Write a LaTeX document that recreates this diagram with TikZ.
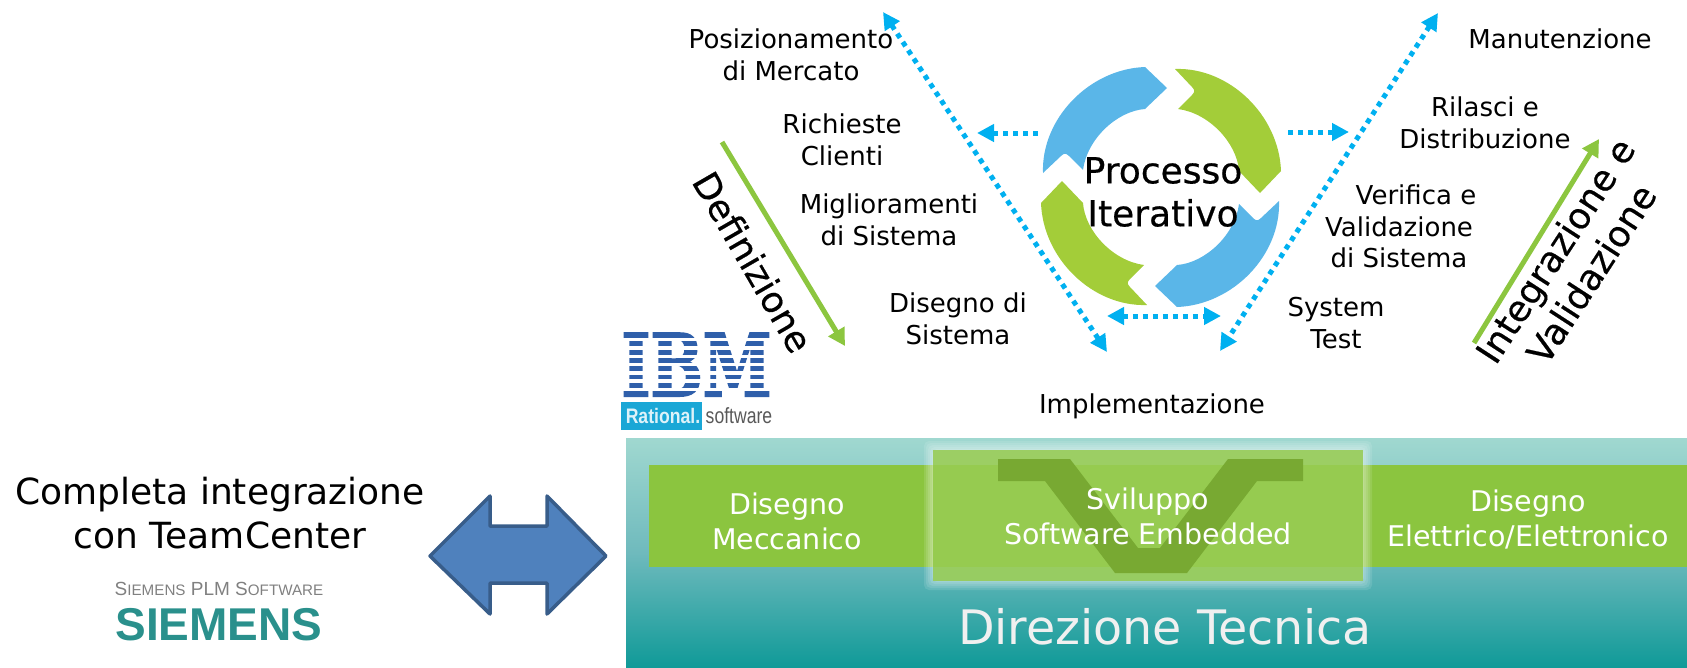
\documentclass[tikz,border=0pt]{standalone}
\usepackage{fontspec}
\usepackage{graphicx}
\setmainfont{DejaVu Sans}
\newfontfamily\logofont[BoldFeatures={FakeBold=2.5}]{DejaVu Serif}
\newfontfamily\lsans{Liberation Sans}
\newfontfamily\medfont[FakeBold=0.5]{DejaVu Sans}
\usetikzlibrary{arrows.meta,shadings}
\definecolor{dotblue}{HTML}{00B0F0}
\definecolor{arcblue}{HTML}{5AB6E8}
\definecolor{arcgreen}{HTML}{A3CD39}
\definecolor{linegreen}{HTML}{8CC63F}
\definecolor{bandgreen}{HTML}{8BC53F}
\definecolor{glassgreen}{HTML}{96CB50}
\definecolor{vgreen}{HTML}{78A932}
\definecolor{tealtop}{HTML}{A0D8D0}
\definecolor{tealmid}{HTML}{6FBABD}
\definecolor{tealbot}{HTML}{109A98}
\definecolor{ibmblue}{HTML}{2F5FAA}
\definecolor{ratcyan}{HTML}{1AA7D6}
\definecolor{siemteal}{HTML}{2A908C}
\definecolor{blockfill}{HTML}{4F81BD}
\definecolor{blockedge}{HTML}{385D8A}
\newcommand{\fsz}[2]{\fontsize{#1}{#2}\selectfont}
\tikzset{
  x=1pt,y=-1pt,
  lab/.style={inner sep=0pt,align=center,text=black,font=\fsz{26}{31.5}},
  big/.style={inner sep=0pt,align=center,text=black,font=\medfont\fsz{36}{43}},
  bandlab/.style={inner sep=0pt,align=center,text=white,font=\fsz{28.5}{35}},
  dotline/.style={draw=dotblue,line width=5pt,dash pattern=on 5pt off 5pt},
  dothead/.style={-{Triangle[length=17pt,width=17pt]}},
  dotboth/.style={{Triangle[length=17pt,width=17pt]}-{Triangle[length=17pt,width=17pt]}},
  greenarrow/.style={draw=linegreen,line width=5pt,-{Triangle[length=17pt,width=18pt]}},
}
\begin{document}
\begin{tikzpicture}
\useasboundingbox (0,0) rectangle (1687,667);
% --- teal panel
\shade[top color=tealtop,bottom color=tealbot,middle color=tealmid] (626,438) rectangle (1687,667);
\fill[bandgreen] (649,465) rectangle (1687,567);
% glass glow
\foreach \w in {1,3,5,7,9}
  \fill[white,opacity=.11,rounded corners=5pt] (933-\w,450-\w) rectangle (1363+\w,581+\w);
\fill[glassgreen,opacity=.86] (933,450) rectangle (1363,581);
\fill[glassgreen] (933,465) rectangle (1363,567);
\fill[vgreen] (998,459) -- (1070,459) -- (1138,548) -- (1160,548) -- (1228,459) -- (1303,459)
  -- (1303,481) -- (1257,481) -- (1187,573) -- (1115,573) -- (1045,481) -- (998,481) -- cycle;
\node[bandlab] (dm) at (787,521) {Disegno\\Meccanico};
\node[bandlab] (sw) at (1148,516) {Sviluppo\\Software Embedded};
\node[bandlab] (de) at (1528,519) {Disegno\\Elettrico/Elettronico};
\node[inner sep=0pt,text=white!94!black,font=\fsz{47.5}{50}] (dt) at (1165,627) {Direzione Tecnica};
% --- circular arrows
\foreach \a/\c in {0/arcblue,90/arcgreen,180/arcblue,270/arcgreen}{
  \begin{scope}[shift={(1161,187)},x=1pt,y=1pt,rotate=-\a]
    \fill[\c] (-118,14) .. controls (-120,68) and (-72,118) .. (-16,120)
      -- (6,99) -- (-16,78)
      .. controls (-44,76) and (-74,48) .. (-78,17)
      -- (-92,31) .. controls (-95,34) and (-97,34) .. (-100,31) -- cycle;
  \end{scope}}
\node[big] (pi) at (1163,192) {Processo\\Iterativo};
% --- dotted arrows
\coordinate (la) at (883,12);
\coordinate (lb) at (1107,352);
\coordinate (ra) at (1438,13);
\coordinate (rb) at (1220,351);
\coordinate (sla) at (1038,133);
\coordinate (slb) at (977,133);
\coordinate (sra) at (1288,132);
\coordinate (srb) at (1349,132);
\coordinate (ba) at (1107,316);
\coordinate (bb) at (1221,316);
\draw[dotline,dotboth] (la) -- (lb);
\draw[dotline,dotboth] (ra) -- (rb);
\draw[dotline,dothead] (sla) -- (slb);
\draw[dotline,dothead] (sra) -- (srb);
\draw[dotline,dotboth] (ba) -- (bb);
% --- green arrows
\coordinate (ga) at (722,142);
\coordinate (gb) at (845,346);
\coordinate (gc) at (1474,343);
\coordinate (gd) at (1599,139);
\draw[greenarrow] (ga) -- (gb);
\draw[greenarrow] (gc) -- (gd);
% --- labels
\node[lab] (n1) at (791,55) {Posizionamento\\di Mercato};
\node[lab] (n2) at (842,140) {Richieste\\Clienti};
\node[lab] (n3) at (889,220) {Miglioramenti\\di Sistema};
\node[lab] (n4) at (958,319) {Disegno di\\Sistema};
\node[lab] (n5) at (1152,406) {Implementazione};
\node[lab] (n6) at (1336,323) {System\\Test};
\node[lab] (n7) at (1399,226.5) {\hspace*{34pt}Verifica e\\Validazione\\di Sistema};
\node[lab] (n8) at (1485,123) {Rilasci e\\Distribuzione};
\node[lab] (n9) at (1560,39) {Manutenzione};
\node[big,rotate=-60] (def) at (753,262) {Definizione};
\node[big,rotate=57] (iv) at (1573,262) {Integrazione e\\Validazione};
% --- IBM logo
\node[inner sep=0pt,anchor=base,text=ibmblue,font=\logofont\bfseries\fsz{86}{86}] (ibm) at (696.5,396) {\scalebox{.72}[1]{IBM}};
\foreach \k in {0,...,6}
  \fill[white] (612,337.9+8.3*\k) rectangle (782,341.3+8.3*\k);
\fill[ratcyan] (621,402) rectangle (702,430);
\node[inner sep=0pt,text=white!85!ratcyan,font=\lsans\bfseries\fsz{21}{22}] (rat) at (663,416) {\scalebox{.84}[1]{Rational.}};
\node[inner sep=0pt,text=black!65,font=\lsans\fsz{22}{22}] (sft) at (739,416) {\scalebox{.8}[1]{software}};
% --- left side
\node[big,font=\fsz{36}{44}] (ci) at (220,513) {Completa integrazione\\con TeamCenter};
\node[inner sep=0pt,text=black!50,font=\lsans\fsz{19}{19}] (sp) at (219,589) {S{\fsz{15.2}{19}\selectfont IEMENS} PLM S{\fsz{15.2}{19}\selectfont OFTWARE}};
\node[inner sep=0pt,text=siemteal,font=\lsans\bfseries\fsz{46}{46}] (sm) at (219,625) {SIEMENS};
% --- double block arrow
\draw[fill=blockfill,draw=blockedge,line width=3.5pt,line join=round]
  (430,556) -- (490,496) -- (490,526) -- (547,526) -- (547,496) -- (606,556)
  -- (547,614) -- (547,583) -- (490,583) -- (490,614) -- cycle;
\end{tikzpicture}
\end{document}
